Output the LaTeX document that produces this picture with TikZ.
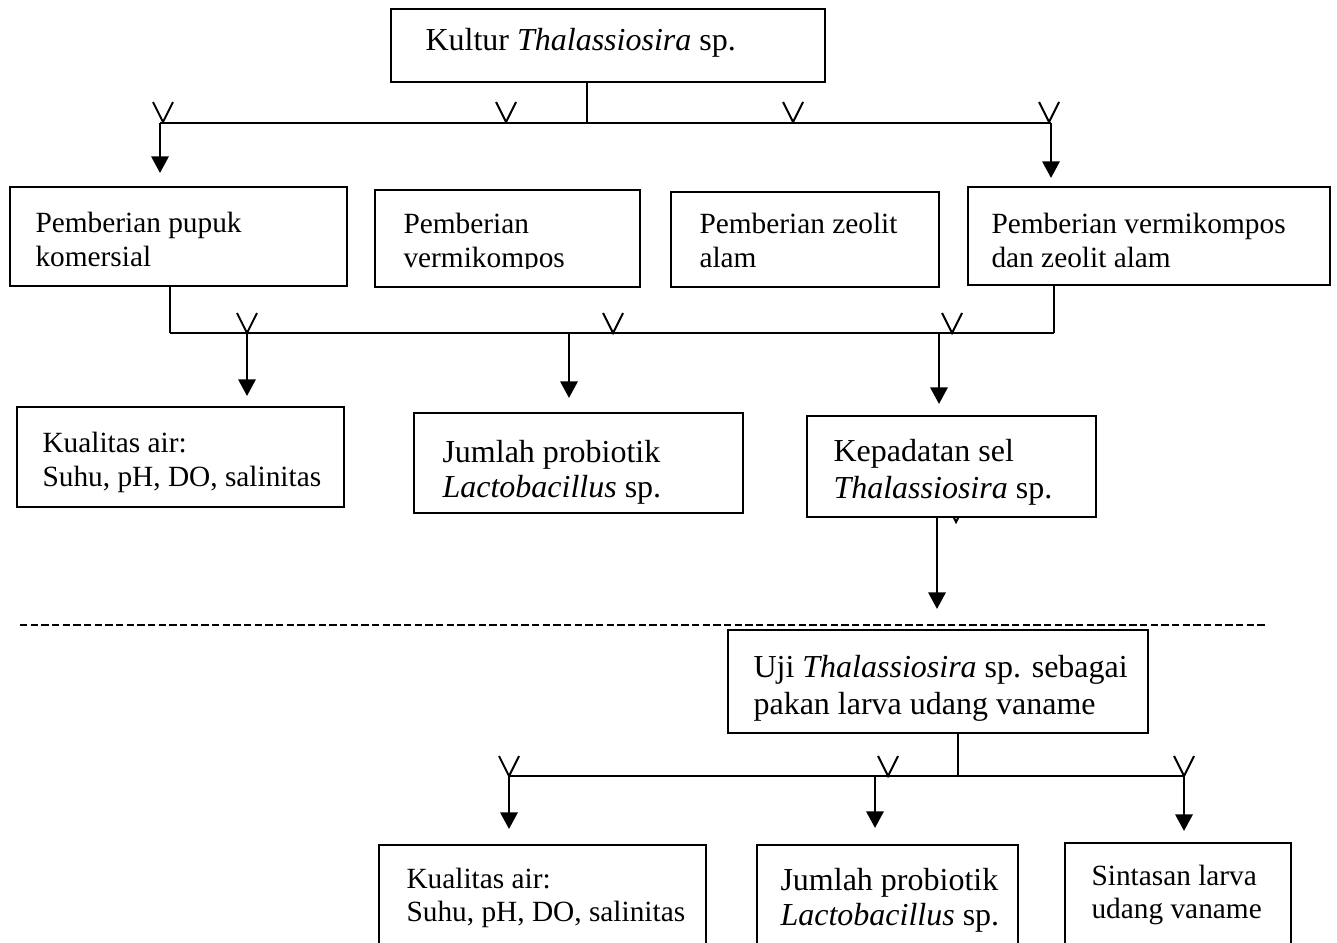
\documentclass[tikz,border=0pt]{standalone}
\usepackage{fontspec}
\setmainfont{Liberation Serif}
\usetikzlibrary{arrows.meta}
\begin{document}
\begin{tikzpicture}[x=0.375pt,y=-0.375pt,
  bx/.style 2 args={draw, line width=0.5pt, fill=white, rectangle, inner sep=0pt,
    minimum width=#1*0.375pt, minimum height=#2*0.375pt},
  big/.style={font=\fontsize{12pt}{14pt}\selectfont, anchor=base west, inner sep=0pt},
  small/.style={font=\fontsize{11pt}{13pt}\selectfont, anchor=base west, inner sep=0pt},
  arr/.style={line width=1.0pt, -{Triangle[length=6.2pt,width=6.4pt]}},
  link/.style={line width=0.5pt},
  stem/.style={line width=0.4pt},
  vmark/.style={line width=0.75pt},
  sepline/.style={line width=0.9pt, dash pattern=on 2.8pt off 1.2pt},
  vtick/.pic={\draw[vmark] (-10,-20) -- (0,0) -- (10,-20);}
]
\clip (0,0) rectangle (1337,942);

% hidden V behind the density box
\pic at (956,522) {vtick};

% boxes
\node[bx={434}{73}]  (top)  at (608,45.5) {};
\node[bx={337}{99}]  (A)    at (178.5,236.5) {};
\node[bx={265}{97}]  (B)    at (507.5,238.5) {};
\node[bx={268}{95}]  (C)    at (805,239.5) {};
\node[bx={362}{98}]  (D)    at (1149,236) {};
\node[bx={327}{100}] (Q1)   at (180.5,457) {};
\node[bx={329}{100}] (J1)   at (578.5,463) {};
\node[bx={289}{101}] (K)    at (951.5,466.5) {};
\node[bx={420}{103}] (U)    at (938,681.5) {};
\node[bx={327}{155}] (Q2)   at (542.5,922.5) {};
\node[bx={261}{155}] (J2)   at (887.5,922.5) {};
\node[bx={226}{157}] (S)    at (1178,921.5) {};

% texts
\node[big] (ttop) at (425,50) {Kultur \textit{Thalassiosira} sp.};
\node[small] (tA1) at (35,232) {Pemberian pupuk};
\node[small] (tA2) at (35,266) {komersial};
\begin{scope}
\clip (375,190) rectangle (640,268);
\node[small] (tB1) at (403,233) {Pemberian};
\node[small] (tB2) at (403,267) {vermikompos};
\end{scope}
\node[small] (tC1) at (699,233) {Pemberian zeolit};
\node[small] (tC2) at (699,267) {alam};
\node[small] (tD1) at (991,233) {Pemberian vermikompos};
\node[small] (tD2) at (991,267) {dan zeolit alam};
\node[small] (tQ11) at (42,452) {Kualitas air:};
\node[small] (tQ12) at (42,486) {Suhu, pH, DO, salinitas};
\node[big] (tJ11) at (442,462) {Jumlah probiotik};
\node[big] (tJ12) at (442,497) {\textit{Lactobacillus} sp.};
\node[big] (tK1) at (833,461) {Kepadatan sel};
\node[big] (tK2) at (833,498) {\textit{Thalassiosira} sp.};
\node[big] (tU1) at (753,677) {Uji \textit{Thalassiosira} sp. sebagai};
\node[big] (tU2) at (753,714) {pakan larva udang vaname};
\node[small] (tQ21) at (406,888) {Kualitas air:};
\node[small] (tQ22) at (406,921) {Suhu, pH, DO, salinitas};
\node[big] (tJ21) at (780,890) {Jumlah probiotik};
\node[big] (tJ22) at (780,925) {\textit{Lactobacillus} sp.};
\node[small] (tS1) at (1091,885) {Sintasan larva};
\node[small] (tS2) at (1091,918) {udang vaname};

% ---- level 1 branching
\coordinate (j0) at (587,123);
\coordinate (h1a) at (160,123);
\coordinate (h1b) at (1051,123);
\draw[stem] (j0 |- top.south) -- (j0);
\draw[link] (h1a) -- (h1b);
\foreach \x in {163,506,793,1049} \pic at (\x,122) {vtick};
\coordinate (e1a) at (160,173);
\coordinate (e1b) at (1051,178);
\draw[arr] (h1a) -- (e1a);
\draw[arr] (h1b) -- (e1b);

% ---- level 2 branching
\coordinate (j1) at (170,333);
\coordinate (j2) at (1054,333);
\draw[link] (j1 |- A.south) -- (j1);
\draw[link] (j2 |- D.south) -- (j2);
\draw[link] (j1) -- (j2);
\foreach \x in {247,613,952} \pic at (\x,333) {vtick};
\coordinate (s21) at (247,333);
\coordinate (s22) at (569,333);
\coordinate (s23) at (939,333);
\coordinate (e21) at (247,396);
\coordinate (e22) at (569,398);
\coordinate (e23) at (939,404);
\draw[arr] (s21) -- (e21);
\draw[arr] (s22) -- (e22);
\draw[arr] (s23) -- (e23);

% ---- density to test
\coordinate (kx) at (937,609);
\draw[arr] (kx |- K.south) -- (kx);

% separator
\coordinate (sepA) at (20,625);
\coordinate (sepB) at (1265,625);
\draw[sepline] (sepA) -- (sepB);

% ---- level 3 branching
\coordinate (j3) at (958,776);
\coordinate (h3a) at (509,776);
\coordinate (h3b) at (1184,776);
\draw[stem] (j3 |- U.south) -- (j3);
\draw[link] (h3a) -- (h3b);
\foreach \x in {509,888,1184} \pic at (\x,776) {vtick};
\coordinate (s32) at (875,776);
\coordinate (e31) at (509,829);
\coordinate (e32) at (875,828);
\coordinate (e33) at (1184,831);
\draw[arr] (h3a) -- (e31);
\draw[arr] (s32) -- (e32);
\draw[arr] (h3b) -- (e33);
\end{tikzpicture}
\end{document}
